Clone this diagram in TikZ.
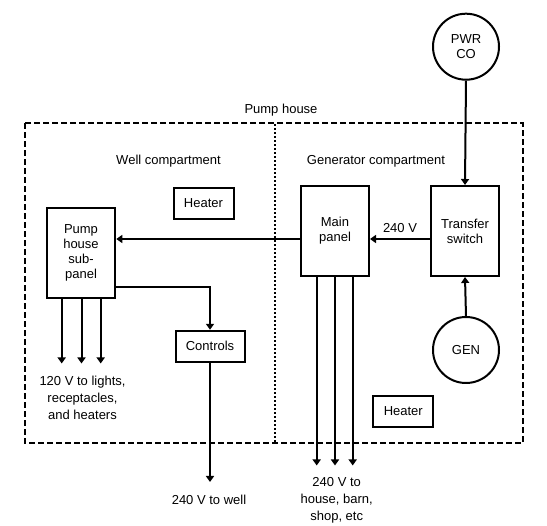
\documentclass[tikz,border=0pt]{standalone}
\usepackage{fontspec}
\setmainfont{Liberation Sans}
\usetikzlibrary{arrows.meta}
\begin{document}
\begin{tikzpicture}[x=1pt,y=-1pt,
  font=\fontsize{13}{15}\selectfont,
  box/.style={draw,line width=2pt,inner sep=0pt,align=center},
  tallbox/.style={box,minimum width=68pt,minimum height=90pt},
  smallbox/.style={box,minimum width=60pt,minimum height=31pt},
  src/.style={draw,circle,line width=2pt,inner sep=0pt,minimum size=66pt,align=center},
  wire/.style={line width=2pt},
  arr/.style={wire,-{Triangle[width=8pt,length=6pt]}},
  lbl/.style={align=center,inner sep=0pt,font=\fontsize{13}{17}\selectfont},
  house/.style={line width=2pt,dash pattern=on 6pt off 3pt},
  divider/.style={line width=2pt,dash pattern=on 2pt off 2pt}
]
\useasboundingbox (0,0) rectangle (547,526);

% pump house enclosure
\draw[house] (25,123.5) rectangle (522.5,443.5);
\coordinate (dtop) at (275,124.5);
\coordinate (dbot) at (275,442.5);
\draw[divider] (dtop) -- (dbot);

\node[lbl] (phl) at (281,110) {Pump house};
\node[lbl] (wcl) at (168.5,161) {Well compartment};
\node[lbl] (gcl) at (376,161) {Generator compartment};

% nodes
\node[src] (pwr) at (466,46.7) {PWR\\CO};
\node[src] (gen) at (466,350) {GEN};
\node[tallbox] (ts) at (465,231) {Transfer\\switch};
\node[tallbox] (mp) at (335,231) {Main\\panel};
\node[tallbox,minimum width=68.6pt] (sp) at (81,253) {Pump\\house\\sub-\\panel};
\node[smallbox] (h1) at (203.5,203.3) {Heater};
\node[smallbox] (h2) at (403.3,411.3) {Heater};
\node[smallbox,minimum width=69pt] (ctrl) at (210,346.3) {Controls};

% connectors
\draw[arr] (pwr.south) -- (ts.north);
\draw[arr] (gen.north) -- (ts.south);
\draw[arr] ([yshift=-8pt]ts.west) -- ([yshift=-8pt]mp.east)
  node[lbl,midway,above=5pt] (v240) {240 V};
\draw[arr] ([yshift=-8pt]mp.west) -- ([yshift=-8pt]mp.west -| sp.east);
\draw[arr] ([yshift=-34pt]sp.east) -| (ctrl.north);

% sub-panel branch circuits
\coordinate (b1) at (61.7,363.5);
\coordinate (b2) at (81.5,363.5);
\coordinate (b3) at (100.7,363.5);
\draw[arr] (sp.south -| b1) -- (b1);
\draw[arr] (sp.south -| b2) -- (b2);
\draw[arr] (sp.south -| b3) -- (b3);
\node[lbl] (l120) at (82.5,398) {120 V to lights,\\receptacles,\\and heaters};

% well feed
\coordinate (wl) at (210,482);
\draw[arr] (ctrl.south) -- (wl);
\node[lbl] (lwell) at (209,500) {240 V to well};

% main panel feeders
\coordinate (f1) at (316.7,465.5);
\coordinate (f2) at (335,465.5);
\coordinate (f3) at (352.7,465.5);
\draw[arr] (mp.south -| f1) -- (f1);
\draw[arr] (mp.south -| f2) -- (f2);
\draw[arr] (mp.south -| f3) -- (f3);
\node[lbl] (lfeed) at (336.7,500.5) {240 V to\\house, barn,\\shop, etc};
\end{tikzpicture}
\end{document}
